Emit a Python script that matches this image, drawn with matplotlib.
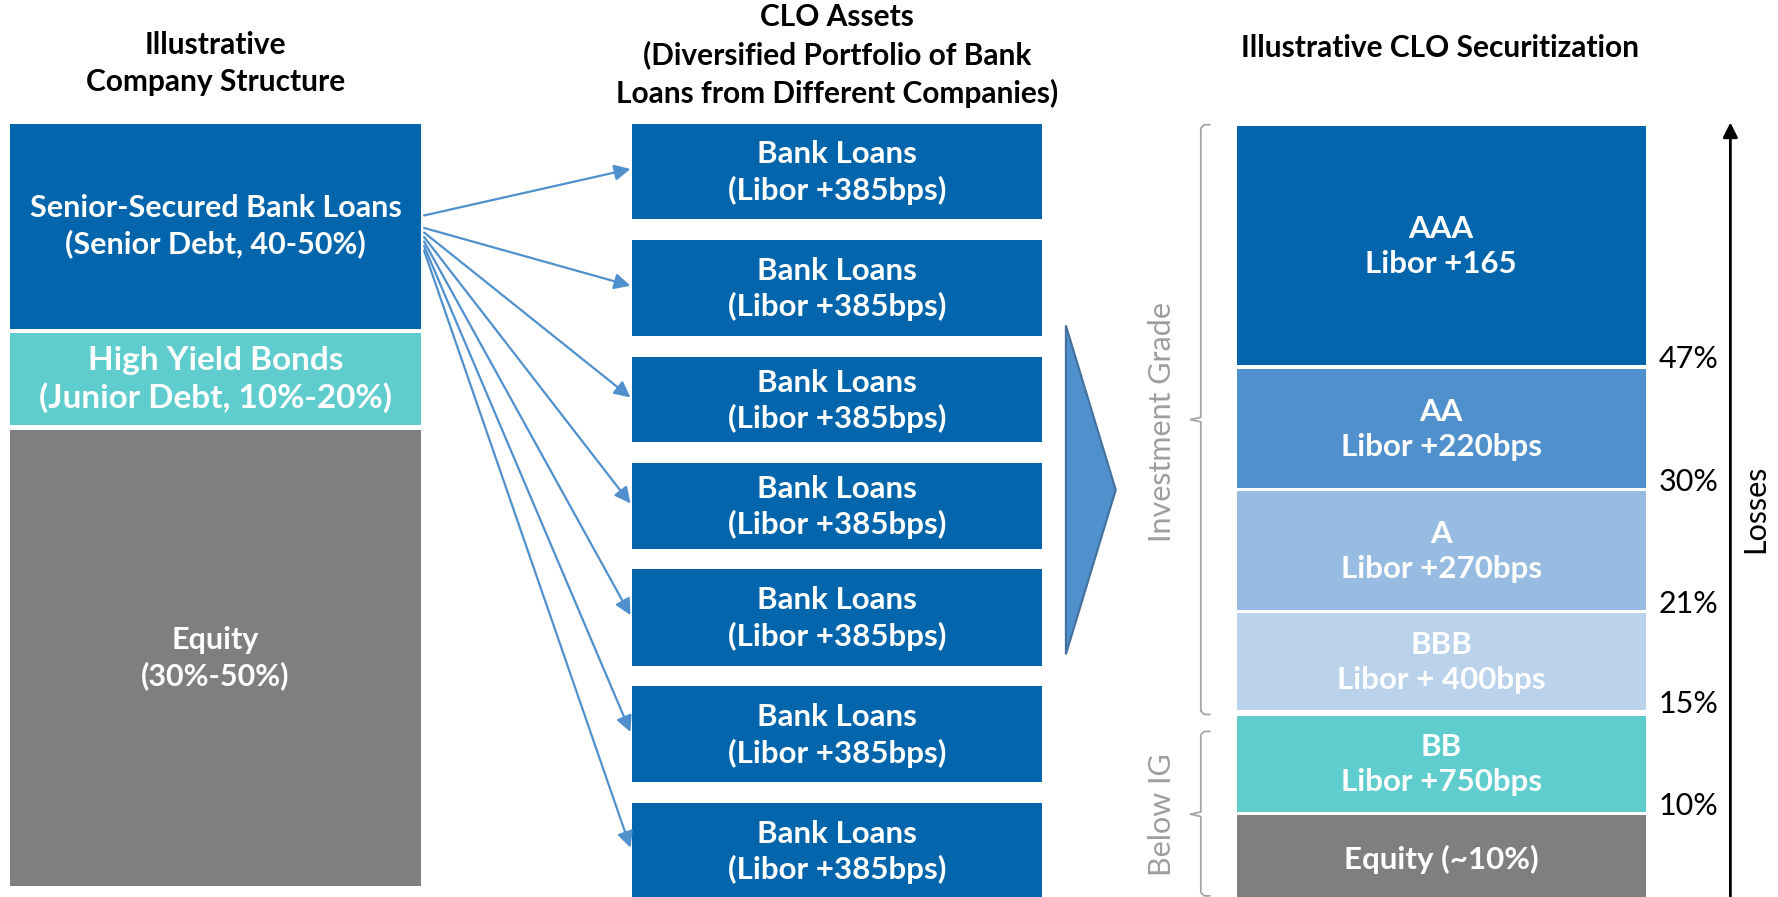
import matplotlib
matplotlib.use("Agg")
import matplotlib.pyplot as plt
from matplotlib.patches import Rectangle, Polygon

plt.rcParams['font.family'] = ['Lato', 'DejaVu Sans']

# ---- data ----
company_layers = ["Senior-Secured Bank Loans\n(Senior Debt, 40-50%)",
                  "High Yield Bonds\n(Junior Debt, 10%-20%)",
                  "Equity\n(30%-50%)"]
loan_label = "Bank Loans\n(Libor +385bps)"
n_loans = 7
tranches = ["AAA", "AA", "A", "BBB", "BB", "Equity (~10%)"]
spreads = ["Libor +165", "Libor +220bps", "Libor +270bps",
           "Libor + 400bps", "Libor +750bps", ""]
attach_pts = ["47%", "30%", "21%", "15%", "10%"]
groups = ["Investment Grade", "Below IG"]

titles = ["Illustrative\nCompany Structure",
          "CLO Assets\n(Diversified Portfolio of Bank\nLoans from Different Companies)",
          "Illustrative CLO Securitization"]

# ---- layout (canvas units, y down) ----
W, H = 1568, 791
blue = "#0366AC"
mid_blue = "#5090CC"
teal = "#5FCDCD"
grey = "#7F7F7F"
company_colors = [blue, teal, grey]
company_y = [(109, 290), (294, 375), (379, 781)]
company_fs = [22, 24, 22]
loan_y = [(109, 193), (212, 296), (315, 390), (408, 484),
          (502, 587), (605, 690), (708, 800)]
arrow_start_y = [190, 201, 205, 209, 213, 217, 221]
tranche_colors = [blue, mid_blue, "#98BCE1", "#BAD3EA", teal, grey]
tranche_y = [(111, 322), (325, 430), (433, 538), (541, 626), (631, 716), (719, 800)]

fig = plt.figure(figsize=(17.78, 8.97), dpi=100)
ax = fig.add_axes([0, 0, 1, 1])
ax.set_xlim(0, W)
ax.set_ylim(H, 0)
ax.axis('off')

# titles
ax.text(190, 56, titles[0], ha='center', va='center', fontsize=21.5,
        fontweight='bold', linespacing=1.38)
ax.text(738, 49, titles[1], ha='center', va='center', fontsize=21.5,
        fontweight='bold', linespacing=1.38)
ax.text(1270, 42, titles[2], ha='center', va='center', fontsize=21.5,
        fontweight='bold')

# company structure
for lab, col, (y0, y1), fs in zip(company_layers, company_colors, company_y, company_fs):
    ax.add_patch(Rectangle((9, y0), 362, y1 - y0, color=col, lw=0))
    ax.text(190, (y0 + y1) / 2, lab, ha='center', va='center', color='white',
            fontsize=fs, fontweight='bold', linespacing=1.3)

# bank loans
for i in range(n_loans):
    y0, y1 = loan_y[i]
    ax.add_patch(Rectangle((557, y0), 362, y1 - y0, color=blue, lw=0))
    yc = (y0 + min(y1, 793)) / 2
    ax.text(738, yc + 1, loan_label, ha='center', va='center', color='white',
            fontsize=22.5, fontweight='bold', linespacing=1.3)
    ax.annotate("", xy=(556, (y0 + min(y1, 791)) / 2 - 2), xytext=(374, arrow_start_y[i]),
                arrowprops=dict(arrowstyle='-|>', color=mid_blue, lw=1.6,
                                mutation_scale=24, shrinkA=0, shrinkB=0))

# chevron
ax.add_patch(Polygon([(940, 287), (984, 432), (940, 577)], closed=True,
                     facecolor=mid_blue, edgecolor="#41719C", lw=1.5))

# CLO tranches
for name, spr, col, (y0, y1) in zip(tranches, spreads, tranche_colors, tranche_y):
    ax.add_patch(Rectangle((1091, y0), 361, y1 - y0, color=col, lw=0))
    lab = name if spr == "" else name + "\n" + spr
    yc = (y0 + min(y1, 791)) / 2 + 1 if spr else 758
    ax.text(1271, yc, lab, ha='center', va='center', color='white',
            fontsize=22.5, fontweight='bold', linespacing=1.3)

for lab, (y0, y1) in zip(attach_pts, tranche_y[:-1]):
    ax.text(1463, y1 - 5, lab, ha='left', va='center', fontsize=22)

# losses arrow
ax.annotate("", xy=(1526, 108), xytext=(1526, 795),
            arrowprops=dict(arrowstyle='-|>', color='black', lw=2,
                            mutation_scale=22, shrinkA=0, shrinkB=0))
ax.text(1548, 449, "Losses", rotation=90, ha='center', va='center', fontsize=22)

# brackets
def bracket(top, mid, bot):
    ax.plot([1067, 1062, 1059, 1059, 1050], [top, top, top + 3, mid - 2, mid],
            color="#A6A6A6", lw=1.3, solid_capstyle='round')
    ax.plot([1050, 1059, 1059, 1062, 1067], [mid, mid + 2, bot - 3, bot, bot],
            color="#A6A6A6", lw=1.3, solid_capstyle='round')

bracket(110, 370, 630)
bracket(645, 718, 790)
ax.text(1025, 372, groups[0], rotation=90, ha='center', va='center',
        fontsize=22, color="#9E9E9E")
ax.text(1025, 718, groups[1], rotation=90, ha='center', va='center',
        fontsize=22, color="#9E9E9E")

fig.savefig("out.png", dpi=100)
